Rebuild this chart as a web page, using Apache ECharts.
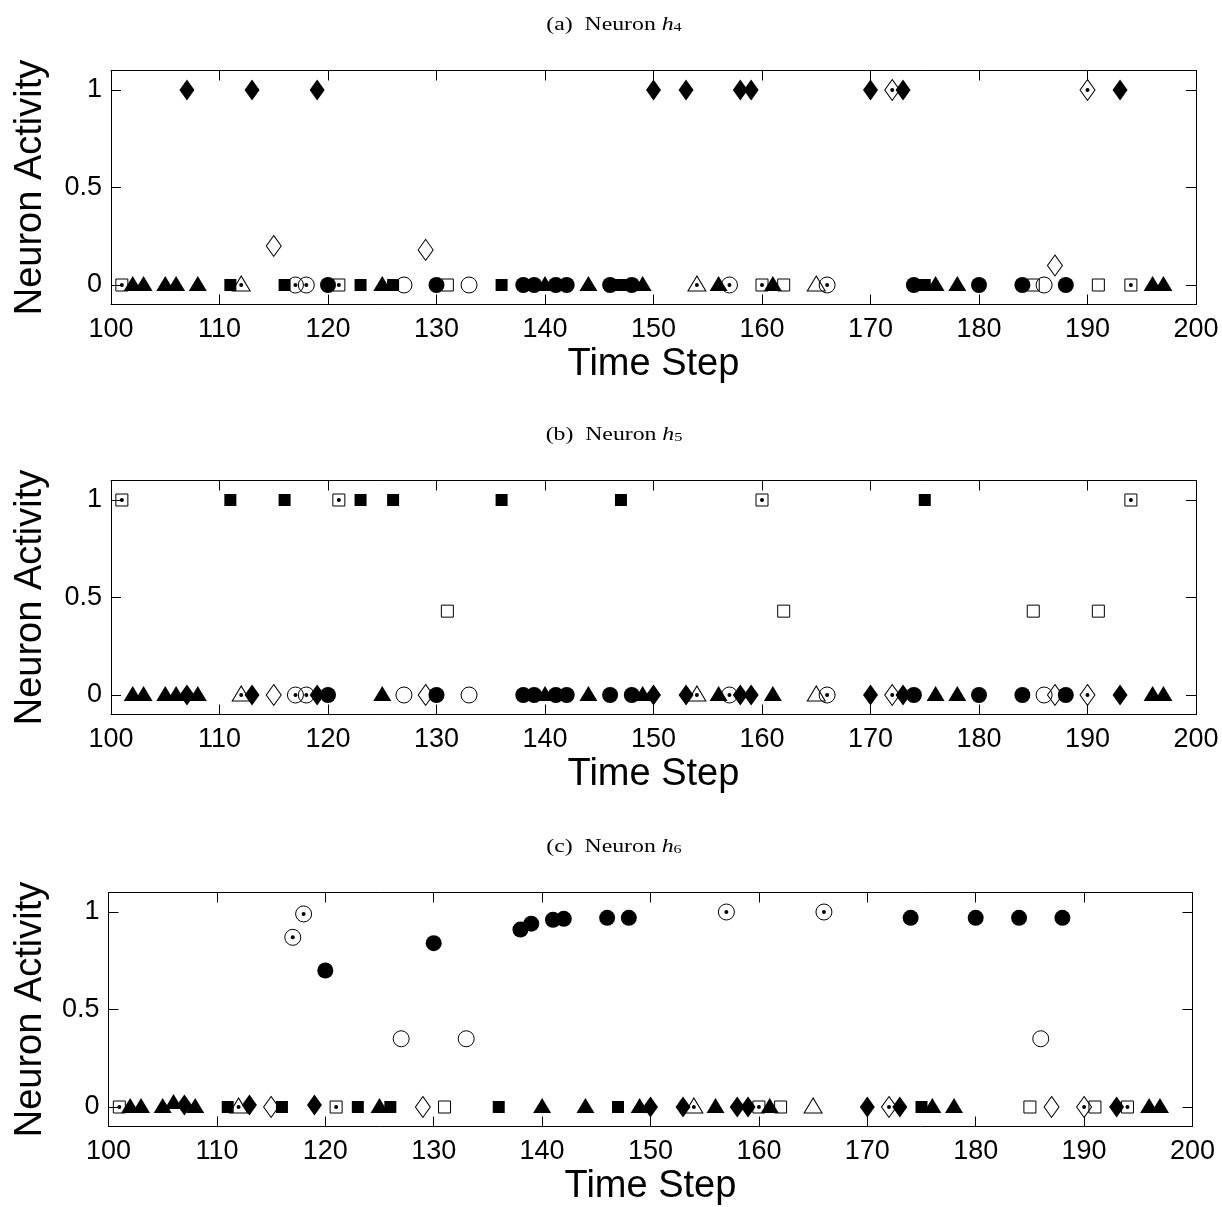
<!DOCTYPE html>
<html>
<head>
<meta charset="utf-8">
<script src="https://cdn.jsdelivr.net/npm/echarts@6/dist/echarts.min.js"></script>
<style>
html,body{margin:0;padding:0;background:#fff;}
#chart{width:1222px;height:1207px;}
</style>
</head>
<body>
<div id="chart"></div>
<script>
// ---- data ----
const timeSteps = [101,102,103,105,106,107,108,
  111,112,113,115,116,117,118,119,120,121,
  123,125,126,127,129,130,131,133,
  136,138,139,140,141,142,144,146,147,148,149,150,
  153,154,156,157,158,159,160,161,162,165,166,
  170,172,173,174,175,176,178,180,
  184,185,186,187,188,190,191,193,194,196,197];
// marker code: first letter f=filled, o=open, d=open with centre dot; second letter D/S/C/T shape
const markerTypes = ['dS','fT','fT','fT','fT','fD','fT',
  'fS','dT','fD','oD','fS','dC','dC','fD','fC','dS',
  'fS','fT','fS','oC','oD','fC','oS','oC',
  'fS','fC','fC','fT','fC','fC','fT','fC','fS','fC','fT','fD',
  'fD','dT','fT','dC','fD','fD','dS','fT','oS','oT','dC',
  'fD','dD','fD','fC','fS','fT','fT','fC',
  'fC','oS','oC','oD','fC','dD','oS','fD','dS','fT','fT'];
const h4 = [0,0,0,0,0,1,0,
  0,0,1,0.2,0,0,0,1,0,0,
  0,0,0,0,0.18,0,0,0,
  0,0,0,0,0,0,0,0,0,0,0,1,
  1,0,0,0,1,1,0,0,0,0,0,
  1,1,1,0,0,0,0,0,
  0,0,0,0.1,0,1,0,1,0,0,0];
const h5 = [1,0,0,0,0,0,0,
  1,0,0,0,1,0,0,0,0,1,
  1,0,1,0,0,0,0.43,0,
  1,0,0,0,0,0,0,0,1,0,0,0,
  0,0,0,0,0,0,1,0,0.43,0,0,
  0,0,0,0,1,0,0,0,
  0,0.43,0,0,0,0,0.43,0,1,0,0];
const h6 = [0,0,0,0,0.02,0.01,0,
  0,0,0.01,0,0,0.87,0.99,0.01,0.70,0,
  0,0,0,0.35,0,0.84,0,0.35,
  0,0.91,0.94,0,0.96,0.965,0,0.97,0,0.97,0,0,
  0,0,0,1.0,0,0,0,0,0,0,1.0,
  0,0,0,0.97,0,0,0,0.97,
  0.97,0,0.35,0,0.97,0,0,0,0,0,0];
const panelTitles = [['(a)  Neuron ','h','4'],['(b)  Neuron ','h','5'],['(c)  Neuron ','h','6']];
const yTickValues = [0,0.5,1];
const yTickLabels = ['0','0.5','1'];
const xAxisTitle = 'Time Step';
const yAxisTitle = 'Neuron Activity';

// ---- layout / style ----
const SANS = '"Liberation Sans", Arial, Helvetica, sans-serif';
const SERIF = '"Liberation Serif", "Times New Roman", serif';
const grids = [
  {left:111, top:70.5, width:1085, height:234},
  {left:111, top:480.5, width:1085, height:234},
  {left:108.5, top:892.5, width:1084, height:234}
];
const shapes = {D:'diamond', S:'rect', C:'circle', T:'triangle'};
const sizes = {D:[15,21], S:[12,12], C:[16,16], T:[18,15]};
const offsets = {D:[0,0], S:[0,0], C:[0,0], T:[0,-1.5]};
const codes = ['fS','oS','dS','fD','oD','dD','fT','oT','dT','fC','oC','dC'];
const panels = [h4, h5, h6];

const xAxes = [], yAxes = [], series = [], graphics = [];
grids.forEach((g, gi) => {
  const tick = {show:true, inside:true, length:10, lineStyle:{color:'#000', width:1}};
  const line = {show:true, onZero:false, lineStyle:{color:'#000', width:1}};
  xAxes.push({gridIndex:gi, type:'value', position:'bottom', min:100, max:200, interval:10,
    axisLine:line, axisTick:tick, splitLine:{show:false},
    axisLabel:{show:true, fontSize:27, color:'#000', fontFamily:SANS, margin:12, showMinLabel:true, showMaxLabel:true}});
  xAxes.push({gridIndex:gi, type:'value', position:'top', min:100, max:200, interval:10,
    axisLine:line, axisTick:tick, splitLine:{show:false}, axisLabel:{show:false}});
  yAxes.push({gridIndex:gi, type:'value', position:'left', min:-0.1, max:1.1,
    axisLine:line, axisTick:Object.assign({customValues:yTickValues}, tick), splitLine:{show:false},
    axisLabel:{show:true, customValues:yTickValues, fontSize:27, color:'#000', fontFamily:SANS, margin:9,
      formatter:(v)=>{const k=yTickValues.indexOf(v);return k>=0?yTickLabels[k]:'';}}});
  yAxes.push({gridIndex:gi, type:'value', position:'right', min:-0.1, max:1.1,
    axisLine:line, axisTick:Object.assign({customValues:yTickValues}, tick), splitLine:{show:false},
    axisLabel:{show:false}});

  const vals = panels[gi];
  codes.forEach(code => {
    const data = [];
    timeSteps.forEach((t,i)=>{ if (markerTypes[i]===code) data.push([t, vals[i]]); });
    if (!data.length) return;
    const fill = code[0], shp = code[1];
    series.push({type:'scatter', xAxisIndex:gi*2, yAxisIndex:gi*2, data:data,
      symbol:shapes[shp], symbolSize:sizes[shp], symbolOffset:offsets[shp],
      itemStyle: fill==='f' ? {color:'#000', borderWidth:0, opacity:1} : {color:'rgba(0,0,0,0)', borderColor:'#000', borderWidth:1, opacity:1},
      emphasis:{disabled:true}, silent:true, animation:false, clip:false, z:2});
    if (fill==='d') {
      series.push({type:'scatter', xAxisIndex:gi*2, yAxisIndex:gi*2, data:data,
        symbol:'circle', symbolSize:4, itemStyle:{color:'#000', opacity:1},
        emphasis:{disabled:true}, silent:true, animation:false, clip:false, z:3});
    }
  });

  // titles and axis names
  const midX = g.left + g.width/2;
  const t = panelTitles[gi];
  graphics.push({type:'text', x:614, y:g.top-46, scaleX:1.25, scaleY:1,
    style:{text:'{n|'+t[0]+'}{i|'+t[1]+'}{s|'+t[2]+'}', textAlign:'center', align:'center',
      textVerticalAlign:'middle', verticalAlign:'middle', fill:'#000',
      rich:{n:{fontFamily:SERIF, fontSize:19, lineHeight:20, verticalAlign:'bottom', fill:'#000'},
            i:{fontFamily:SERIF, fontSize:19, fontStyle:'italic', lineHeight:20, verticalAlign:'bottom', fill:'#000'},
            s:{fontFamily:SERIF, fontSize:13, lineHeight:5, verticalAlign:'bottom', fill:'#000'}}}});
  graphics.push({type:'text', x:midX, y:g.top+g.height+60,
    style:{text:xAxisTitle, font:'38px '+SANS, fill:'#000', textAlign:'center', align:'center', textVerticalAlign:'middle', verticalAlign:'middle'}});
  graphics.push({type:'text', x:31, y:g.top+g.height/2, rotation:Math.PI/2,
    style:{text:yAxisTitle, font:'38px '+SANS, fill:'#000', textAlign:'center', align:'center', textVerticalAlign:'middle', verticalAlign:'middle'}});
});

const chart = echarts.init(document.getElementById('chart'), null, {renderer:'canvas'});
chart.setOption({
  animation:false,
  backgroundColor:'#fff',
  grid: grids.map(g=>Object.assign({containLabel:false}, g)),
  xAxis: xAxes,
  yAxis: yAxes,
  series: series,
  graphic: graphics
});
</script>
</body>
</html>
